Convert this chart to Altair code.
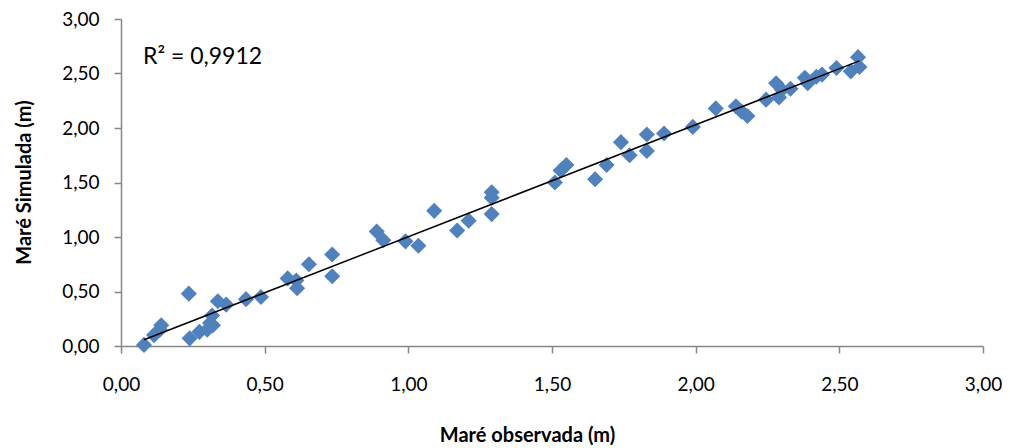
import altair as alt
import pandas as pd

obs = [0.08, 0.115, 0.135, 0.14, 0.236, 0.239, 0.273, 0.30, 0.32, 0.317, 0.31, 0.337, 0.366,
       0.435, 0.487, 0.58, 0.61, 0.613, 0.654, 0.735, 0.735, 0.89, 0.913, 0.99, 1.035,
       1.09, 1.17, 1.21, 1.29, 1.29, 1.29, 1.51, 1.53, 1.55, 1.65, 1.69, 1.74, 1.77,
       1.83, 1.83, 1.89, 1.99, 2.07, 2.14, 2.16, 2.18, 2.245, 2.28, 2.29, 2.30, 2.33,
       2.38, 2.39, 2.42, 2.44, 2.49, 2.54, 2.565, 2.57]
sim = [0.01, 0.10, 0.15, 0.19, 0.48, 0.07, 0.13, 0.15, 0.19, 0.28, 0.21, 0.41, 0.38,
       0.43, 0.45, 0.62, 0.60, 0.53, 0.75, 0.84, 0.64, 1.05, 0.97, 0.96, 0.92,
       1.24, 1.06, 1.15, 1.41, 1.36, 1.21, 1.50, 1.61, 1.66, 1.53, 1.66, 1.87, 1.75,
       1.94, 1.79, 1.95, 2.01, 2.18, 2.20, 2.15, 2.11, 2.26, 2.41, 2.28, 2.35, 2.36,
       2.46, 2.41, 2.47, 2.49, 2.55, 2.52, 2.65, 2.56]
ticks = [0.0, 0.5, 1.0, 1.5, 2.0, 2.5, 3.0]
r2_label = "R² = 0,9912"

df = pd.DataFrame({"obs": obs, "sim": sim})
FONT = "Lato"
label_expr = "replace(format(datum.value, '.2f'), '.', ',')"

x = alt.X("obs:Q", scale=alt.Scale(domain=[0, 3], nice=False),
          axis=alt.Axis(values=ticks, labelExpr=label_expr, grid=False, labelFlush=False,
                        title="Maré observada (m)", tickSize=7, labelPadding=22,
                        domainColor="#868686", tickColor="#868686",
                        titleX=406, titleY=89, titleBaseline="middle", titleAlign="center"))
y = alt.Y("sim:Q", scale=alt.Scale(domain=[0, 3], nice=False),
          axis=alt.Axis(values=ticks, labelExpr=label_expr, grid=False, labelFlush=False,
                        title="Maré Simulada (m)", tickSize=7, labelPadding=15,
                        domainColor="#868686", tickColor="#868686",
                        titleX=-97, titleY=163, titleAngle=-90,
                        titleBaseline="middle", titleAlign="center"))

pts = alt.Chart(df).mark_point(shape="diamond", filled=True, size=260,
                               color="#4F81BD", opacity=1).encode(x=x, y=y)
line = alt.Chart(df).transform_regression("obs", "sim").mark_line(
    color="black", strokeWidth=1.5).encode(x="obs:Q", y="sim:Q")
txt = alt.Chart(pd.DataFrame({"t": [r2_label]})).mark_text(
    align="left", baseline="middle", fontSize=23, font=FONT, color="black").encode(
    x=alt.value(22), y=alt.value(38), text="t:N")

chart = alt.layer(pts, line, txt).properties(
    width=862, height=327,
    autosize=alt.AutoSizeParams(type="none"),
    padding={"left": 113, "top": 11, "right": 19, "bottom": 102},
).configure_view(stroke=None).configure_axis(
    labelFont=FONT, titleFont=FONT, labelFontSize=19, titleFontSize=20,
    labelColor="black", titleColor="black", titleFontWeight="bold",
    domainWidth=1.5, tickWidth=1.5)

chart.save("out.html", embed_options={"renderer": "svg", "actions": False})
